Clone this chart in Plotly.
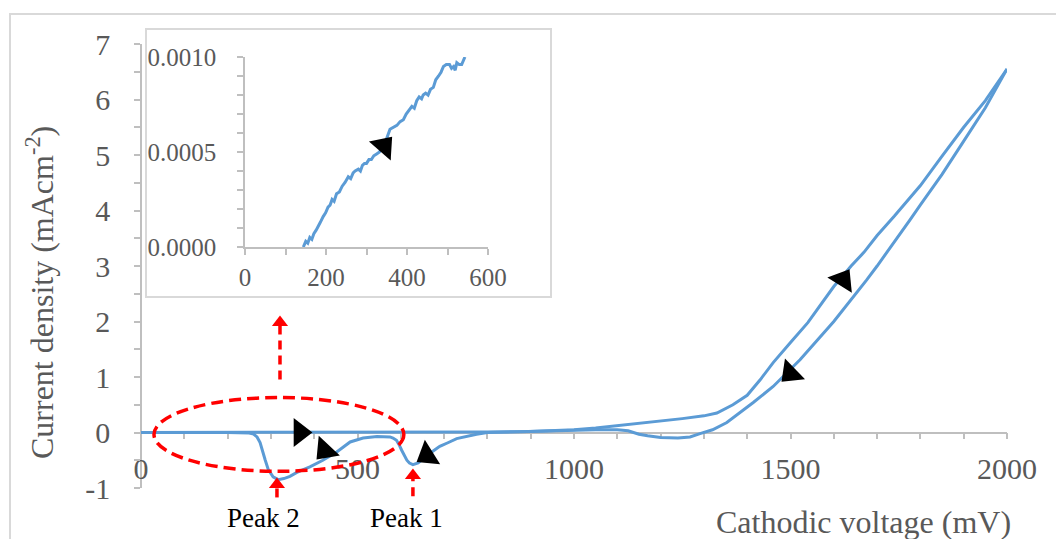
import plotly.graph_objects as go

W, H = 1056, 539

# ---------------- data ----------------
# forward scan 0 -> 2000 mV
fwd_v = [0, 100, 200, 300, 400, 500, 600, 700, 800, 900, 950, 1000, 1050, 1100, 1150,
         1200, 1250, 1300, 1330, 1367, 1400, 1430, 1460, 1500, 1540, 1600, 1640, 1670,
         1700, 1740, 1800, 1850, 1900, 1950, 2000]
fwd_j = [0, 0, 0, 0, 0, 0, 0, 0, 0.01, 0.02, 0.03, 0.05, 0.08, 0.12, 0.17,
         0.21, 0.25, 0.30, 0.35, 0.50, 0.67, 0.95, 1.26, 1.62, 1.98, 2.63, 3.00, 3.25,
         3.55, 3.90, 4.45, 4.98, 5.50, 5.98, 6.55]

# reverse scan 2000 -> 0 mV
rev_v = [2000, 1950, 1900, 1850, 1800, 1776, 1700, 1676, 1600, 1522, 1460, 1414, 1353,
         1320, 1291, 1268, 1240, 1200, 1170, 1150, 1125, 1100, 1050, 1000, 950, 900, 850,
         800, 775, 750, 729, 710, 690, 670, 651, 640, 628, 620, 614, 608, 602, 596, 590,
         582, 575, 545, 513, 483, 452, 420, 390, 360, 344, 330, 317, 305, 294, 287, 282,
         275, 268, 260, 250, 200, 100, 0]
rev_j = [6.55, 5.85, 5.25, 4.65, 4.10, 3.83, 3.00, 2.75, 2.00, 1.31, 0.83, 0.54, 0.18,
         0.05, -0.02, -0.08, -0.10, -0.09, -0.06, -0.03, 0.03, 0.05, 0.05, 0.04, 0.03, 0.02, 0.01,
         0.0, -0.03, -0.07, -0.11, -0.18, -0.25, -0.36, -0.49, -0.55, -0.58, -0.55, -0.50, -0.42,
         -0.32, -0.22, -0.14, -0.10, -0.08, -0.07, -0.10, -0.17, -0.35, -0.50, -0.62, -0.72,
         -0.79, -0.83, -0.85, -0.80, -0.67, -0.50, -0.37, -0.18, -0.08, -0.03, -0.01, 0, 0, 0]

# inset: forward scan, low-voltage zoom (noisy trace)
ins_v = [144, 150, 155, 160, 165, 170, 176, 180, 186, 193, 199, 205, 210, 215, 220, 226,
         233, 240, 247, 255, 261, 267, 272, 280, 285, 290, 295, 300, 306, 312, 318, 325,
         332, 340, 348, 358, 366, 375, 383, 391, 398, 405, 412, 418, 424, 430, 436, 440,
         446, 452, 458, 465, 471, 478, 484, 490, 497, 505, 510, 515, 519, 523, 529, 535,
         540, 543]
ins_j = [0.0, 0.00003, 0.00002, 0.00005, 0.00004, 0.00007, 0.00009, 0.00011, 0.00013,
         0.00016, 0.00018, 0.00021, 0.00022, 0.00025, 0.00024, 0.00028, 0.00029, 0.00032,
         0.00034, 0.00037, 0.00036, 0.00039, 0.00040, 0.00041, 0.00040, 0.00043, 0.00044,
         0.00044, 0.00046, 0.00046, 0.00048, 0.00049, 0.00050, 0.00053, 0.00056, 0.00062,
         0.00063, 0.00064, 0.00066, 0.00067, 0.00070, 0.00072, 0.00074, 0.00073, 0.00077,
         0.00079, 0.00078, 0.00080, 0.00081, 0.00080, 0.00083, 0.00084, 0.00088, 0.00090,
         0.00092, 0.00095, 0.00096, 0.00096, 0.00094, 0.00095, 0.00093, 0.00097, 0.00096,
         0.00096, 0.00099, 0.00100]

# black direction arrows on the curve (voltage, current, pointing angle)
arr_v = [367, 425, 661, 1621, 1500]
arr_j = [0.0, -0.32, -0.41, 2.75, 1.07]
arr_ang = [90, 223, 238, 32, 226]
ins_arr_v = [343]
ins_arr_j = [0.00053]
ins_arr_ang = [41]

# red dashed markers (voltage, tip current, tail current)
red_v = [321, 314, 628]
red_tip = [2.11, -0.81, -0.65]
red_tail = [0.955, -1.17, -1.15]

peak_labels = ["Peak 2", "Peak 1"]
peak_v = [284, 614]

# ellipse (voltage / current extents)
ell_v = [30, 607]
ell_j = [-0.70, 0.63]

x_ticks = [0, 500, 1000, 1500, 2000]
x_ticktext = ["0", "500", "1000", "1500", "2000"]
y_ticks = [-1, 0, 1, 2, 3, 4, 5, 6, 7]
y_ticktext = ["-1", "0", "1", "2", "3", "4", "5", "6", "7"]
ins_xticks = [0, 200, 400, 600]
ins_yticks = [0.0, 0.0005, 0.0010]
ins_yticktext = ["0.0000", "0.0005", "0.0010"]

# ---------------- layout geometry ----------------
X_DOM = [141 / W, 1007 / W]
Y_DOM = [1 - 488 / H, 1 - 44 / H]
Y_RNG = [-1, 7]
X_RNG = [0, 2000]
PX_PER_J = (488 - 44) / (Y_RNG[1] - Y_RNG[0])


def ypaper(j):
    return Y_DOM[0] + (j - Y_RNG[0]) / (Y_RNG[1] - Y_RNG[0]) * (Y_DOM[1] - Y_DOM[0])


BLUE = "#5B9BD5"
GRAY_TXT = "#595959"
AX = "#BFBFBF"
FONT = "Liberation Serif"

fig = go.Figure()
fig.add_trace(go.Scatter(x=fwd_v, y=fwd_j, mode="lines",
                         line=dict(color=BLUE, width=3), xaxis="x", yaxis="y"))
fig.add_trace(go.Scatter(x=rev_v, y=rev_j, mode="lines",
                         line=dict(color=BLUE, width=3), xaxis="x", yaxis="y"))
fig.add_trace(go.Scatter(x=arr_v, y=arr_j, mode="markers",
                         marker=dict(symbol="triangle-up", size=25, color="black",
                                     angle=arr_ang, line=dict(width=0)),
                         xaxis="x", yaxis="y"))
fig.add_trace(go.Scatter(x=ins_v, y=ins_j, mode="lines",
                         line=dict(color=BLUE, width=3), xaxis="x2", yaxis="y2"))
fig.add_trace(go.Scatter(x=ins_arr_v, y=ins_arr_j, mode="markers",
                         marker=dict(symbol="triangle-up", size=25, color="black",
                                     angle=ins_arr_ang, line=dict(width=0)),
                         xaxis="x2", yaxis="y2"))

# red arrow heads
HEAD = 14
head_j = [t - (HEAD / 2) / PX_PER_J for t in red_tip]
fig.add_trace(go.Scatter(x=red_v, y=head_j, mode="markers", cliponaxis=False,
                         marker=dict(symbol="triangle-up", size=HEAD, color="#FF0000",
                                     line=dict(width=0)),
                         xaxis="x", yaxis="y"))

shapes = []
# outer chart frame
shapes.append(dict(type="rect", xref="paper", yref="paper", x0=10 / W, x1=1.02,
                   y0=-0.02, y1=1 - 14 / H, line=dict(color="#D9D9D9", width=2),
                   layer="below"))
# inset frame
shapes.append(dict(type="rect", xref="paper", yref="paper", x0=146 / W, x1=551 / W,
                   y0=1 - 297 / H, y1=1 - 29 / H, line=dict(color="#D9D9D9", width=2),
                   layer="below"))
# ellipse
shapes.append(dict(type="circle", xref="x", yref="y", x0=ell_v[0], x1=ell_v[1],
                   y0=ell_j[0], y1=ell_j[1],
                   line=dict(color="#FF0000", width=3.5, dash="12px,6px")))
# red dashed stems
for v, t, tail in zip(red_v, red_tip, red_tail):
    base = t - (HEAD * 0.75) / PX_PER_J
    shapes.append(dict(type="line", xref="x", yref="paper", x0=v, x1=v,
                       y0=ypaper(tail), y1=ypaper(base),
                       line=dict(color="#FF0000", width=3.5, dash="9px,6px")))

annotations = []
for lab, v in zip(peak_labels, peak_v):
    annotations.append(dict(text=lab, x=v, xref="x", y=1 - 518 / H, yref="paper",
                            showarrow=False, xanchor="center", yanchor="middle",
                            font=dict(family=FONT, size=27, color="black")))
annotations.append(dict(text="Current density (mAcm<sup>-2</sup>)", textangle=-90,
                        x=40 / W, y=1 - 293 / H, xref="paper", yref="paper",
                        showarrow=False, xanchor="center", yanchor="middle",
                        font=dict(family=FONT, size=32, color=GRAY_TXT)))
annotations.append(dict(text="Cathodic voltage (mV)",
                        x=863 / W, y=1 - 522 / H, xref="paper", yref="paper",
                        showarrow=False, xanchor="center", yanchor="middle",
                        font=dict(family=FONT, size=32, color=GRAY_TXT)))

common = dict(ticks="outside", ticklen=6, tickcolor=AX, tickwidth=1.5,
              showline=True, linecolor=AX, linewidth=1.5, showgrid=False, zeroline=False,
              automargin=False, layer="below traces")

fig.update_layout(
    template="none",
    width=W, height=H, margin=dict(l=0, r=0, t=0, b=0, pad=0, autoexpand=False),
    paper_bgcolor="white", plot_bgcolor="rgba(0,0,0,0)", showlegend=False,
    shapes=shapes, annotations=annotations,
    xaxis=dict(domain=X_DOM, range=X_RNG, anchor="free", position=ypaper(0),
               tickvals=x_ticks, ticktext=x_ticktext,
               minor=dict(dtick=100, ticks="outside", ticklen=6, tickcolor=AX, tickwidth=1.5, showgrid=False),
               tickfont=dict(family=FONT, size=30, color=GRAY_TXT),
               ticklabelstandoff=4, **common),
    yaxis=dict(domain=Y_DOM, range=Y_RNG, anchor="free", position=X_DOM[0],
               tickvals=y_ticks, ticktext=y_ticktext,
               minor=dict(dtick=0.5, ticks="outside", ticklen=6, tickcolor=AX, tickwidth=1.5, showgrid=False),
               tickfont=dict(family=FONT, size=30, color=GRAY_TXT),
               ticklabelstandoff=18, **common),
    xaxis2=dict(domain=[245 / W, 488 / W], range=[0, 600], anchor="y2",
                tickvals=ins_xticks,
                minor=dict(dtick=100, ticks="outside", ticklen=6, tickcolor=AX, tickwidth=1.5, showgrid=False),
                tickfont=dict(family=FONT, size=25, color=GRAY_TXT),
                ticklabelstandoff=1, **common),
    yaxis2=dict(domain=[1 - 247 / H, 1 - 57 / H], range=[0, 0.001], anchor="x2",
                tickvals=ins_yticks, ticktext=ins_yticktext,
                minor=dict(dtick=0.0001, ticks="outside", ticklen=6, tickcolor=AX, tickwidth=1.5, showgrid=False),
                tickfont=dict(family=FONT, size=25, color=GRAY_TXT),
                ticklabelstandoff=16, **common),
)

fig.write_html("out.html", config={"displayModeBar": False},
               post_script="document.body.style.margin='0';document.body.style.overflow='hidden';")
